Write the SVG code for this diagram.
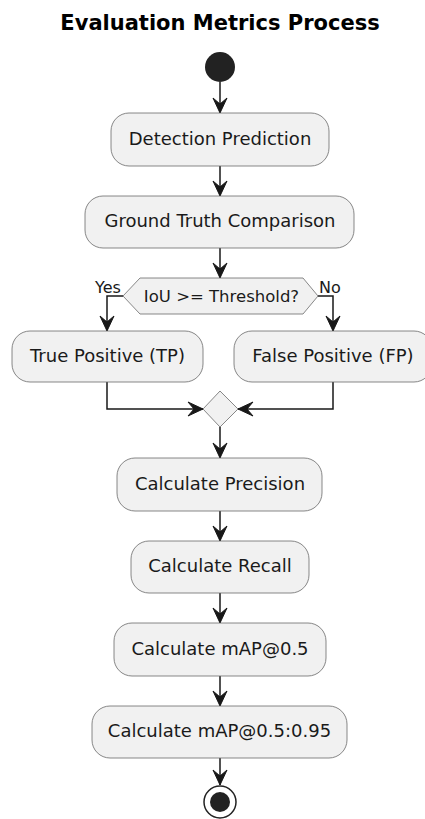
<svg xmlns="http://www.w3.org/2000/svg" width="425" height="819" viewBox="0 0 425 819">
<defs>
<style>
.box{fill:#F1F1F1;stroke:#6a6a6a;stroke-width:0.8}
.t{font-family:"DejaVu Sans",sans-serif;font-size:18px;fill:#1a1a1a;text-anchor:middle}
.d{font-family:"DejaVu Sans",sans-serif;font-size:16.5px;fill:#1a1a1a;text-anchor:middle}
.l{font-family:"DejaVu Sans",sans-serif;font-size:16px;fill:#1a1a1a}
.ln{fill:none;stroke:#181818;stroke-width:1.5}
.ah{fill:#181818;stroke:#181818;stroke-width:1}
</style>
<polygon id="ad" points="0,0 -7,-15 0,-9 7,-15"/>
</defs>
<rect width="425" height="819" fill="#FFFFFF"/>
<text x="220" y="30" font-family="DejaVu Sans, sans-serif" font-size="21" font-weight="bold" text-anchor="middle">Evaluation Metrics Process</text>

<g id="connectors">
<path class="ln" d="M220,82 V113"/><use href="#ad" class="ah" x="220" y="113"/>
<path class="ln" d="M220,166 V196"/><use href="#ad" class="ah" x="220" y="196"/>
<path class="ln" d="M220,248 V278"/><use href="#ad" class="ah" x="220" y="278"/>
<path class="ln" d="M123,296 H107 V331"/><use href="#ad" class="ah" x="107" y="331"/>
<path class="ln" d="M318,296 H333 V331"/><use href="#ad" class="ah" x="333" y="331"/>
<path class="ln" d="M107,382 V409 H203"/><use href="#ad" class="ah" transform="translate(203,409) rotate(-90)"/>
<path class="ln" d="M333,382 V409 H238"/><use href="#ad" class="ah" transform="translate(238,409) rotate(90)"/>
<path class="ln" d="M220,427 V458"/><use href="#ad" class="ah" x="220" y="458"/>
<path class="ln" d="M220,511 V541"/><use href="#ad" class="ah" x="220" y="541"/>
<path class="ln" d="M220,593 V623"/><use href="#ad" class="ah" x="220" y="623"/>
<path class="ln" d="M220,676 V706"/><use href="#ad" class="ah" x="220" y="706"/>
<path class="ln" d="M220,758 V785"/><use href="#ad" class="ah" x="220" y="785"/>
<text class="l" x="95" y="293">Yes</text>
<text class="l" x="319" y="293">No</text>
</g>

<g id="start"><circle cx="220" cy="67" r="15" fill="#222222"/></g>

<g id="detection"><rect class="box" x="111" y="113" width="218" height="53" rx="18"/><text class="t" x="220" y="145">Detection Prediction</text></g>
<g id="groundtruth"><rect class="box" x="85" y="196" width="269" height="52" rx="18"/><text class="t" x="220" y="227">Ground Truth Comparison</text></g>
<g id="iou"><polygon class="box" points="123,296 140,278 303,278 318,296 303,314 140,314"/><text class="d" x="221.5" y="302">IoU &gt;= Threshold?</text></g>
<g id="tp"><rect class="box" x="12" y="331" width="191" height="51" rx="18"/><text class="t" x="107.5" y="362">True Positive (TP)</text></g>
<g id="fp"><rect class="box" x="234" y="331" width="198" height="51" rx="18"/><text class="t" x="333" y="362">False Positive (FP)</text></g>
<g id="merge"><polygon class="box" points="220,391 238,409 220,427 203,409"/></g>
<g id="precision"><rect class="box" x="117" y="458" width="205" height="53" rx="18"/><text class="t" x="220" y="490">Calculate Precision</text></g>
<g id="recall"><rect class="box" x="131" y="541" width="178" height="52" rx="18"/><text class="t" x="220" y="572">Calculate Recall</text></g>
<g id="map05"><rect class="box" x="114" y="623" width="212" height="53" rx="18"/><text class="t" x="220" y="655">Calculate mAP@0.5</text></g>
<g id="map0595"><rect class="box" x="92" y="706" width="255" height="52" rx="18"/><text class="t" x="219.5" y="737">Calculate mAP@0.5:0.95</text></g>
<g id="end"><circle cx="220" cy="802" r="16" fill="none" stroke="#222222" stroke-width="1.5"/><circle cx="220" cy="802" r="10" fill="#222222"/></g>
</svg>
